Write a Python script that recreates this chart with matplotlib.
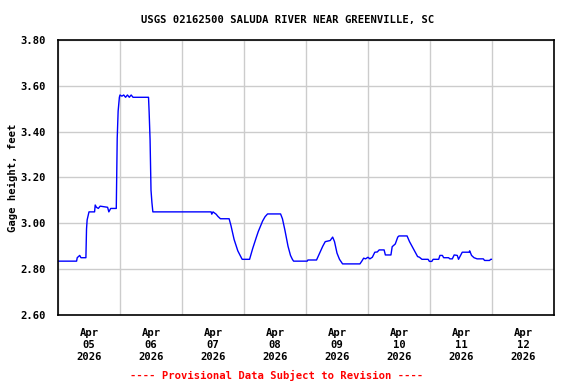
import numpy as np
import matplotlib
matplotlib.use("Agg")
import matplotlib.pyplot as plt
from matplotlib.ticker import FixedLocator, NullFormatter

# days since Apr 05 2026 00:00, gage height in feet
days = [
    0.00, 0.30, 0.31, 0.35, 0.37, 0.45, 0.46, 0.47, 0.50, 0.59,
    0.60, 0.62, 0.65, 0.68, 0.80, 0.82, 0.85, 0.94, 0.955, 0.97,
    0.99, 1.00, 1.03, 1.06, 1.09, 1.12, 1.15, 1.18, 1.21, 1.46,
    1.47, 1.485, 1.50, 1.515, 1.53, 2.47, 2.48, 2.50, 2.55, 2.58,
    2.62, 2.76, 2.79, 2.84, 2.90, 2.97, 3.09, 3.14, 3.20, 3.23,
    3.30, 3.34, 3.36, 3.38, 3.59, 3.62, 3.66, 3.71, 3.75, 3.78,
    3.80, 4.02, 4.03, 4.17, 4.22, 4.27, 4.31, 4.39, 4.43, 4.46,
    4.50, 4.54, 4.59, 4.87, 4.90, 4.93, 4.96, 5.00, 5.03, 5.07,
    5.11, 5.15, 5.18, 5.26, 5.28, 5.37, 5.39, 5.44, 5.48, 5.50,
    5.63, 5.67, 5.75, 5.80, 5.83, 5.87, 5.97, 5.99, 6.03, 6.05,
    6.14, 6.16, 6.20, 6.22, 6.30, 6.32, 6.36, 6.39, 6.44, 6.46,
    6.52, 6.63, 6.64, 6.67, 6.71, 6.76, 6.86, 6.88, 6.96, 6.98,
    6.99,
]
gage_ft = [
    2.835, 2.835, 2.85, 2.86, 2.85, 2.85, 2.975, 3.015, 3.05, 3.05,
    3.08, 3.07, 3.065, 3.075, 3.07, 3.05, 3.065, 3.065, 3.37, 3.49,
    3.55, 3.56, 3.555, 3.56, 3.55, 3.56, 3.55, 3.56, 3.55, 3.55,
    3.485, 3.365, 3.145, 3.09, 3.05, 3.05, 3.04, 3.05, 3.04, 3.03,
    3.02, 3.02, 2.99, 2.93, 2.88, 2.843, 2.843, 2.89, 2.94, 2.964,
    3.01, 3.029, 3.035, 3.041, 3.041, 3.02, 2.97, 2.90, 2.86, 2.843,
    2.835, 2.835, 2.84, 2.84, 2.87, 2.90, 2.92, 2.925, 2.94, 2.92,
    2.87, 2.843, 2.823, 2.823, 2.835, 2.848, 2.845, 2.852, 2.845, 2.852,
    2.874, 2.875, 2.884, 2.884, 2.862, 2.862, 2.898, 2.91, 2.94, 2.945,
    2.945, 2.92, 2.88, 2.855, 2.852, 2.843, 2.843, 2.834, 2.834, 2.843,
    2.843, 2.86, 2.86, 2.85, 2.85, 2.845, 2.845, 2.862, 2.86, 2.843,
    2.874, 2.874, 2.88, 2.86, 2.85, 2.845, 2.845, 2.838, 2.838, 2.843,
    2.843,
]

day_labels = ["Apr\n05\n2026", "Apr\n06\n2026", "Apr\n07\n2026", "Apr\n08\n2026",
              "Apr\n09\n2026", "Apr\n10\n2026", "Apr\n11\n2026", "Apr\n12\n2026"]
y_ticks = [2.60, 2.80, 3.00, 3.20, 3.40, 3.60, 3.80]

font = {"family": "DejaVu Sans Mono", "weight": "bold", "size": 7.6}

fig = plt.figure(figsize=(5.76, 3.84), dpi=100)
ax = fig.add_axes([58 / 576, 1 - 315 / 384, 496 / 576, 275 / 384])

ax.plot(days, gage_ft, color="#0000ff", linewidth=1.0)

ax.set_xlim(0, 8)
ax.set_ylim(2.60, 3.80)

# gridlines at midnight, labels at noon
ax.xaxis.set_major_locator(FixedLocator(np.arange(0, 9)))
ax.xaxis.set_major_formatter(NullFormatter())
ax.xaxis.set_minor_locator(FixedLocator(np.arange(8) + 0.5))
ax.set_xticklabels(day_labels, minor=True, fontdict=font, linespacing=1.3)
ax.set_yticks(y_ticks)
ax.set_yticklabels([f"{v:.2f}" for v in y_ticks], fontdict=font)

ax.tick_params(axis="both", which="both", length=0)
ax.tick_params(axis="x", which="minor", pad=9)
ax.tick_params(axis="y", pad=9)
ax.grid(True, which="major", color="#cccccc", linewidth=1.0)
ax.set_axisbelow(True)
for s in ax.spines.values():
    s.set_color("black")
    s.set_linewidth(1.2)

ax.set_ylabel("Gage height, feet", fontdict=font)
ax.yaxis.set_label_coords(-0.08, 0.5)

fig.text(0.5, 1 - 20 / 384, "USGS 02162500 SALUDA RIVER NEAR GREENVILLE, SC",
         ha="center", va="center", **font)
fig.text(277 / 576, 1 - 375 / 384, "---- Provisional Data Subject to Revision ----",
         ha="center", va="center", color="red", **font)

fig.savefig("out.png", dpi=100)
